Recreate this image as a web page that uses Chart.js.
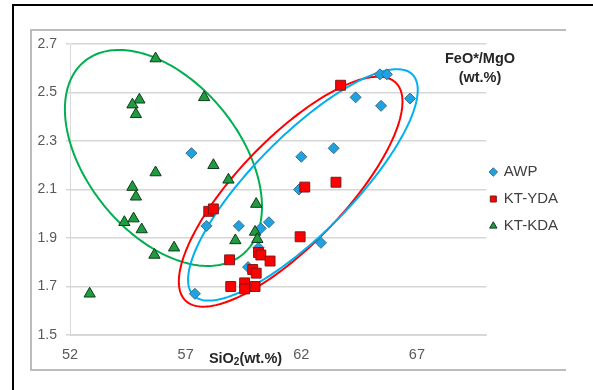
<!DOCTYPE html>
<html><head><meta charset="utf-8">
<script src="https://cdn.jsdelivr.net/npm/chart.js@4.4.0/dist/chart.umd.min.js"></script>
<style>html,body{margin:0;padding:0;background:#fff}#wrap{width:593px;height:390px}</style>
</head><body><div id="wrap"><canvas id="c" width="593" height="390"></canvas></div>
<script>
// ---- data ----
const seriesNames = ['AWP', 'KT-YDA', 'KT-KDA'];
const awpX = [57.25, 57.9, 59.3, 60.25, 60.6, 60.15, 59.7, 57.4, 62.0, 63.4, 61.9, 62.85, 64.35, 65.45, 65.4, 65.7, 66.7];
const awpY = [2.25, 1.95, 1.95, 1.94, 1.965, 1.86, 1.78, 1.67, 2.235, 2.27, 2.10, 1.88, 2.48, 2.445, 2.575, 2.575, 2.475];
const ydaX = [63.7, 62.15, 63.5, 61.95, 58.0, 58.2, 58.9, 60.15, 60.25, 60.65, 59.9, 60.05, 58.95, 59.55, 59.55, 60.0];
const ydaY = [2.53, 2.11, 2.13, 1.905, 2.01, 2.02, 1.81, 1.84, 1.83, 1.805, 1.77, 1.755, 1.70, 1.715, 1.69, 1.70];
const kdaX = [55.7, 57.8, 55.0, 54.7, 54.85, 58.2, 55.7, 58.85, 54.7, 54.85, 60.05, 54.35, 54.75, 55.1, 60.0, 60.1, 59.15, 56.5, 55.65, 52.85];
const kdaY = [2.64, 2.48, 2.47, 2.45, 2.41, 2.20, 2.17, 2.14, 2.11, 2.07, 2.04, 1.965, 1.98, 1.935, 1.925, 1.895, 1.89, 1.86, 1.83, 1.67];
const xTicks = [52, 57, 62, 67];
const yTicks = [1.5, 1.7, 1.9, 2.1, 2.3, 2.5, 2.7];
const xRange = [52, 70];
const yRange = [1.5, 2.7];
const yTitleLines = ['FeO*/MgO', '(wt.%)'];
const xTitleParts = ['SiO', '2', '(wt.%)'];
// group ellipses in data units: centre, two conjugate half-axis vectors
const ellipseCenters = [[56.04, 2.23], [61.54, 2.091], [62.07, 2.119]];
const ellipseU = [[4.26, -0.2008], [4.835, 0.3707], [4.965, 0.3913]];
const ellipseV = [[0, -0.3975], [0, -0.2957], [0, -0.273]];
const ellipseColors = ['#00B050', '#FF0000', '#00B0F0'];

const zip = (xs, ys) => xs.map((x, i) => ({x, y: ys[i]}));
const FONT = "'Liberation Sans', Arial, sans-serif";

const decor = {
  id: 'decor',
  beforeDraw(chart) {
    const ctx = chart.ctx;
    ctx.save();
    ctx.fillStyle = '#fff';
    ctx.fillRect(0, 0, chart.width, chart.height);
    ctx.strokeStyle = '#000';
    ctx.lineWidth = 2;
    ctx.beginPath();
    ctx.moveTo(13, 390); ctx.lineTo(13, 5); ctx.lineTo(593, 5);
    ctx.stroke();
    ctx.strokeStyle = '#A6A6A6';
    ctx.lineWidth = 1.5;
    ctx.beginPath();
    ctx.moveTo(566, 30); ctx.lineTo(31, 30); ctx.lineTo(31, 370); ctx.lineTo(566, 370);
    ctx.stroke();
    ctx.restore();
  },
  beforeDatasetsDraw(chart) {
    const ctx = chart.ctx, xs = chart.scales.x, ys = chart.scales.y;
    ctx.save();
    ctx.lineWidth = 2;
    ellipseCenters.forEach((c, k) => {
      const u = ellipseU[k], v = ellipseV[k];
      ctx.strokeStyle = ellipseColors[k];
      ctx.beginPath();
      for (let i = 0; i <= 240; i++) {
        const t = i / 240 * Math.PI * 2;
        const dx = c[0] + u[0] * Math.cos(t) + v[0] * Math.sin(t);
        const dy = c[1] + u[1] * Math.cos(t) + v[1] * Math.sin(t);
        const px = xs.getPixelForValue(dx), py = ys.getPixelForValue(dy);
        if (i === 0) ctx.moveTo(px, py); else ctx.lineTo(px, py);
      }
      ctx.closePath();
      ctx.stroke();
    });
    ctx.restore();
  },
  afterDraw(chart) {
    const ctx = chart.ctx;
    ctx.save();
    ctx.fillStyle = '#262626';
    ctx.textBaseline = 'middle';
    ctx.textAlign = 'center';
    ctx.font = 'bold 14.5px ' + FONT;
    ctx.fillText(yTitleLines[0], 480, 59);
    ctx.fillText(yTitleLines[1], 480, 78);
    const big = 'bold 14.5px ' + FONT, small = 'bold 10px ' + FONT;
    ctx.textAlign = 'left';
    ctx.font = big; const w0 = ctx.measureText(xTitleParts[0]).width, w2 = ctx.measureText(xTitleParts[2]).width;
    ctx.font = small; const w1 = ctx.measureText(xTitleParts[1]).width;
    let x = 245.5 - (w0 + w1 + w2) / 2;
    const y = 359;
    ctx.font = big; ctx.fillText(xTitleParts[0], x, y); x += w0;
    ctx.font = small; ctx.fillText(xTitleParts[1], x, y + 3); x += w1;
    ctx.font = big; ctx.fillText(xTitleParts[2], x, y);
    ctx.restore();
  }
};

new Chart(document.getElementById('c'), {
  type: 'scatter',
  data: {
    datasets: [
      {label: seriesNames[0], data: zip(awpX, awpY), pointStyle: 'rectRot', pointRadius: 5.5, pointHoverRadius: 5.5,
       backgroundColor: '#1FA3E0', borderColor: '#3F6E8C', borderWidth: 1, order: 3},
      {label: seriesNames[1], data: zip(ydaX, ydaY), pointStyle: 'rect', pointRadius: 7, pointHoverRadius: 7,
       backgroundColor: '#FF0000', borderColor: '#7A1A1A', borderWidth: 1, order: 2},
      {label: seriesNames[2], data: zip(kdaX, kdaY), pointStyle: 'triangle', pointRadius: 6.5, pointHoverRadius: 6.5,
       backgroundColor: '#1E9C3F', borderColor: '#0F3A1C', borderWidth: 1, order: 1}
    ]
  },
  options: {
    responsive: false,
    animation: false,
    devicePixelRatio: 1,
    layout: {padding: {top: 44, left: 31, bottom: 28, right: 25}},
    plugins: {
      tooltip: {enabled: false},
      title: {display: false},
      legend: {
        position: 'right',
        align: 'center',
        labels: {
          usePointStyle: true,
          boxWidth: 6,
          boxHeight: 6,
          padding: 4,
          color: '#404040',
          font: {family: FONT, size: 15, lineHeight: 23 / 15},
          generateLabels(chart) {
            const items = Chart.defaults.plugins.legend.labels.generateLabels(chart);
            items.sort((a, b) => a.datasetIndex - b.datasetIndex);
            return items.map(it => Object.assign(it, {text: [it.text]}));
          }
        }
      }
    },
    scales: {
      x: {
        type: 'linear', position: 'bottom', min: xRange[0], max: xRange[1],
        afterBuildTicks: s => { s.ticks = xTicks.map(v => ({value: v})); },
        afterFit: s => { s.height = 27; },
        grid: {display: false},
        border: {display: true, color: '#D9D9D9', width: 1},
        ticks: {color: '#595959', font: {family: FONT, size: 14.5}, padding: 3, maxRotation: 0, autoSkip: false,
                callback: v => String(v)}
      },
      y: {
        type: 'linear', min: yRange[0], max: yRange[1],
        afterBuildTicks: s => { s.ticks = yTicks.map(v => ({value: v})); },
        afterFit: s => { s.width = 39; },
        grid: {color: '#D6D6D6', lineWidth: 1.5, drawTicks: true, tickLength: 4},
        border: {display: true, color: '#D9D9D9', width: 1},
        ticks: {color: '#595959', font: {family: FONT, size: 14}, padding: 9, autoSkip: false,
                callback: v => Number(v).toFixed(1)}
      }
    }
  },
  plugins: [decor]
});
</script>
</body></html>
